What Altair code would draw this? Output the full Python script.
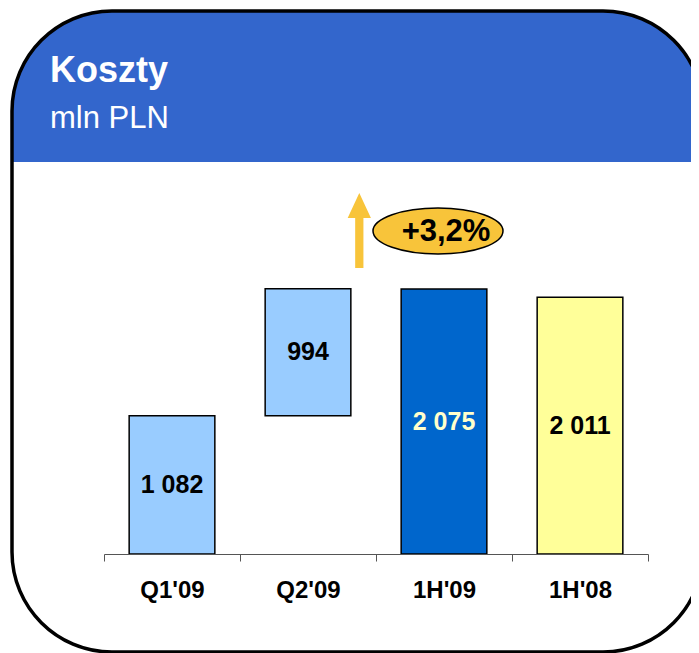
import altair as alt
import pandas as pd

# ---- data ----
categories = ["Q1'09", "Q2'09", "1H'09", "1H'08"]
values = [1082, 994, 2075, 2011]
bases = [0, 1082, 0, 0]
value_labels = ["1 082", "994", "2 075", "2 011"]
bar_colors = ["#99CCFF", "#99CCFF", "#0066CC", "#FFFF99"]
label_colors = ["#000000", "#000000", "#FFFFCC", "#000000"]
title_text = "Koszty"
subtitle_text = "mln PLN"
change_text = "+3,2%"

df = pd.DataFrame({
    "cat": categories,
    "base": bases,
    "top": [b + v for b, v in zip(bases, values)],
    "label": value_labels,
    "lblcol": label_colors,
})
df["mid"] = (df["base"] + df["top"]) / 2
one = pd.DataFrame({"a": [0]})

W, H = 683, 645
FONT = "Liberation Sans"
ORANGE = "#F8C43A"

xscale = alt.Scale(domain=categories, range=[96, 640], paddingInner=0.37, paddingOuter=0.185)
axscale = alt.Scale(domain=categories, range=[96, 640], paddingInner=0, paddingOuter=0)
yscale = alt.Scale(domain=[0, 2075], range=[546, 281])

frame_enc = dict(x=alt.value(4), x2=alt.value(695), y=alt.value(3), y2=alt.value(644))

frame_bg = alt.Chart(one).mark_rect(fill="white", cornerRadius=100).encode(**frame_enc)
header = alt.Chart(one).mark_rect(
    fill="#3366CC", cornerRadiusTopLeft=100, cornerRadiusTopRight=100
).encode(x=alt.value(4), x2=alt.value(695), y=alt.value(3), y2=alt.value(254))
header_cut = alt.Chart(one).mark_rect(fill="white").encode(
    x=alt.value(0), x2=alt.value(W), y=alt.value(154), y2=alt.value(260))
frame_border = alt.Chart(one).mark_rect(
    fillOpacity=0, stroke="black", strokeWidth=3.5, cornerRadius=100
).encode(**frame_enc)

title = alt.Chart(one).mark_text(
    text=title_text, font=FONT, fontSize=36, fontWeight="bold", color="white",
    align="left", baseline="alphabetic"
).encode(x=alt.value(42), y=alt.value(74))
subtitle = alt.Chart(one).mark_text(
    text=subtitle_text, font=FONT, fontSize=31, color="white",
    align="left", baseline="alphabetic"
).encode(x=alt.value(42), y=alt.value(120))

axis_layer = alt.Chart(df).mark_tick(opacity=0).encode(
    x=alt.X("cat:N", scale=axscale, sort=categories,
            axis=alt.Axis(title=None, labelAngle=0, labelFont=FONT, labelFontSize=24,
                          labelFontWeight="bold", labelColor="black", labelPadding=17,
                          tickBand="extent", tickSize=7, tickColor="#555555",
                          domainColor="#555555", offset=-(H - 546), grid=False,
                          zindex=2)),
)

bars = alt.Chart(df).mark_bar(stroke="black", strokeWidth=1.5).encode(
    x=alt.X("cat:N", scale=xscale, sort=categories, axis=None),
    y=alt.Y("base:Q", scale=yscale, axis=None),
    y2="top:Q",
    color=alt.Color("cat:N", scale=alt.Scale(domain=categories, range=bar_colors), legend=None),
)

bar_labels = alt.Chart(df).mark_text(
    font=FONT, fontSize=25, fontWeight="bold", baseline="middle", align="center"
).encode(
    x=alt.X("cat:N", scale=xscale, sort=categories, axis=None),
    y=alt.Y("mid:Q", scale=yscale, axis=None),
    text="label:N",
    color=alt.Color("lblcol:N", scale=None),
)

arrow_path = "M0,-1 L0.31,-0.333 L0.11,-0.333 L0.11,1 L-0.11,1 L-0.11,-0.333 L-0.31,-0.333 Z"
arrow = alt.Chart(one).mark_point(
    shape=arrow_path, filled=True, fill=ORANGE, strokeWidth=0, size=5625, opacity=1
).encode(x=alt.value(351.3), y=alt.value(222.5))

ellipse_path = "M-1,0 A1,0.354 0 1,1 1,0 A1,0.354 0 1,1 -1,0 Z"
ellipse = alt.Chart(one).mark_point(
    shape=ellipse_path, filled=True, fill=ORANGE, stroke="black", strokeWidth=1.5,
    size=16900, opacity=1
).encode(x=alt.value(430), y=alt.value(223))

change = alt.Chart(one).mark_text(
    text=change_text, font=FONT, fontSize=31, fontWeight="bold", color="black",
    align="center", baseline="middle"
).encode(x=alt.value(438), y=alt.value(224))

data_layers = alt.layer(axis_layer, bars, bar_labels).resolve_scale(x="independent")

chart = alt.layer(
    frame_bg, header, header_cut, frame_border, title, subtitle, data_layers,
    arrow, ellipse, change
).properties(
    width=W, height=H, padding=0, autosize=alt.AutoSizeParams(type="none")
).configure_view(strokeWidth=0)

chart.save("out.html", embed_options={"renderer": "svg", "actions": False})
